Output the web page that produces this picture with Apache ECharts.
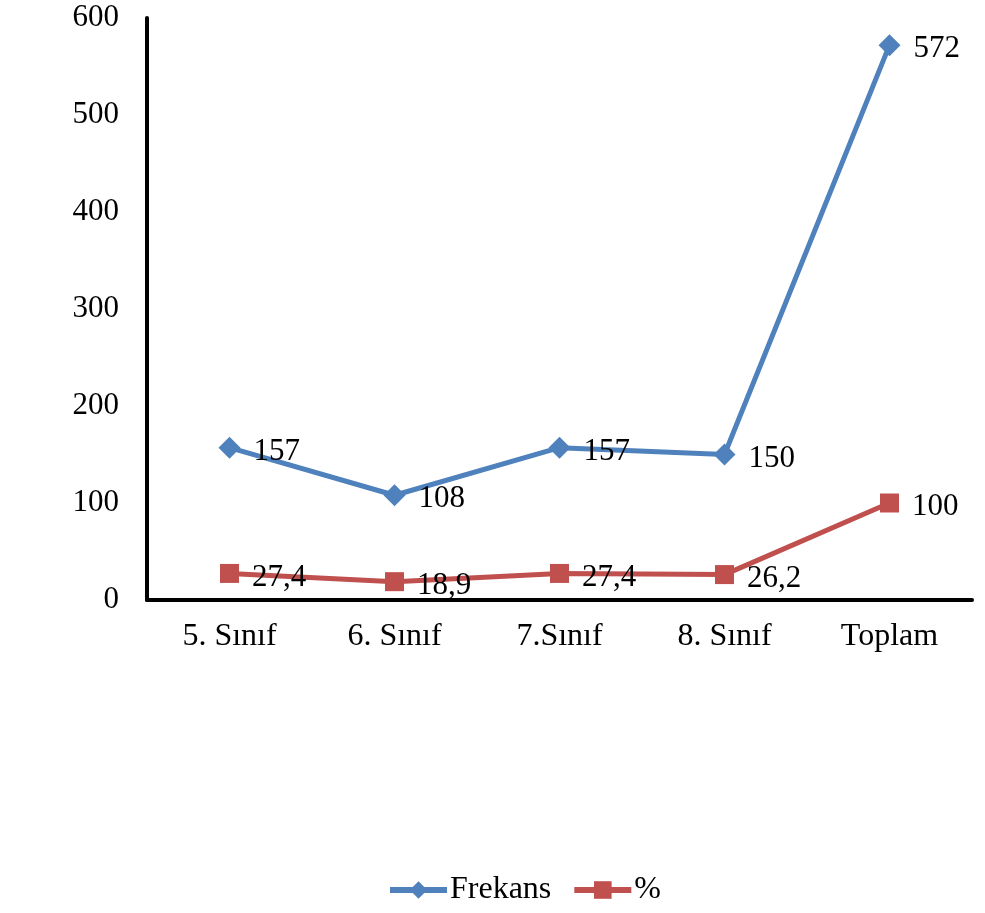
<!DOCTYPE html>
<html><head><meta charset="utf-8">
<script src="https://cdn.jsdelivr.net/npm/echarts@6/dist/echarts.min.js"></script>
<style>html,body{margin:0;padding:0;background:#fff}#c{width:985px;height:913px}</style>
</head><body><div id="c"></div>
<script>
const categories = ['5. Sınıf', '6. Sınıf', '7.Sınıf', '8. Sınıf', 'Toplam'];
const frekans = [157, 108, 157, 150, 572];
const yuzde = [27.4, 18.9, 27.4, 26.2, 100];
const yTicks = [0, 100, 200, 300, 400, 500, 600];

const font = '"Liberation Serif", "Times New Roman", serif';
const chart = echarts.init(document.getElementById('c'));
const lbl = {
  show: true, position: 'right', distance: 13, offset: [0, 4],
  color: '#000', fontFamily: font, fontSize: 31,
  formatter: p => String(p.value).replace('.', ',')
};
chart.setOption({
  animation: false,
  backgroundColor: '#fff',
  grid: { left: 147, right: 13, top: 18, bottom: 313, containLabel: false },
  legend: {
    bottom: 2, left: 382, itemWidth: 57, itemHeight: 22, itemGap: 20,
    textStyle: { fontFamily: font, fontSize: 32, color: '#000', padding: [0, 0, 0, -2] },
    lineStyle: { width: 6 },
    data: ['Frekans', '%']
  },
  xAxis: {
    type: 'category', data: categories, boundaryGap: true,
    axisLine: { lineStyle: { color: '#000', width: 4 } },
    axisTick: { show: false },
    axisLabel: { fontFamily: font, fontSize: 32, color: '#000', margin: 21 }
  },
  yAxis: {
    type: 'value', min: yTicks[0], max: yTicks[yTicks.length - 1], interval: 100,
    axisLine: { show: true, lineStyle: { color: '#000', width: 4 } },
    axisTick: { show: false },
    splitLine: { show: false },
    axisLabel: { fontFamily: font, fontSize: 31, color: '#000', margin: 28 }
  },
  series: [
    {
      name: 'Frekans', type: 'line', data: frekans,
      symbol: 'diamond', symbolSize: 22,
      lineStyle: { color: '#4F81BD', width: 5 },
      itemStyle: { color: '#4F81BD' },
      label: lbl
    },
    {
      name: '%', type: 'line', data: yuzde,
      symbol: 'rect', symbolSize: 19,
      lineStyle: { color: '#C0504D', width: 5 },
      itemStyle: { color: '#C0504D' },
      label: lbl
    }
  ]
});
</script></body></html>
